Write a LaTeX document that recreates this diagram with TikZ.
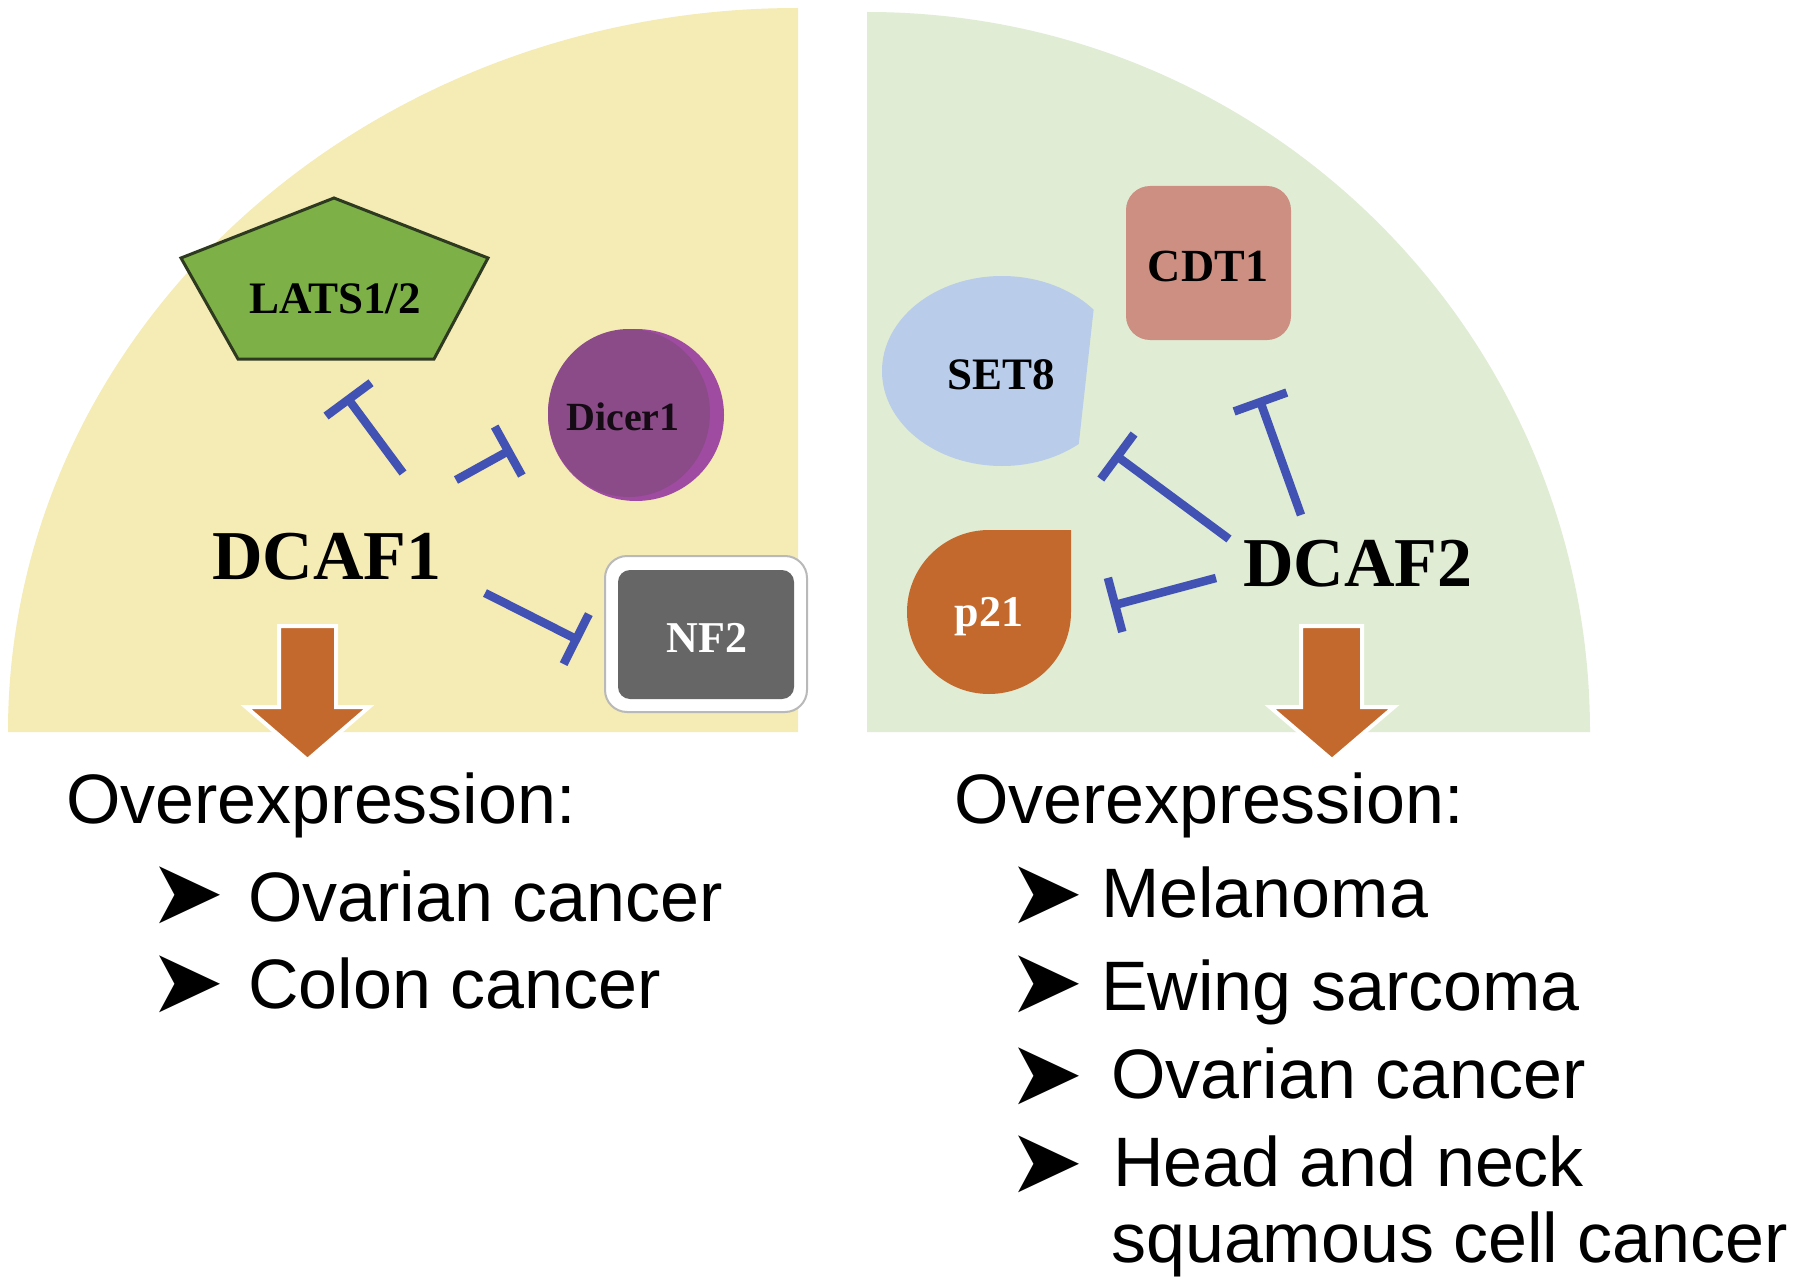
\documentclass[tikz,border=0pt]{standalone}
\usepackage{fontspec}
\setmainfont{Liberation Serif}
\setsansfont{Liberation Sans}
\newfontfamily\symfont{DejaVu Sans}
\usetikzlibrary{arrows.meta}
\definecolor{yelbg}{HTML}{F5EBB4}
\definecolor{grnbg}{HTML}{E0EDD4}
\definecolor{inhblue}{HTML}{4152B4}
\definecolor{orangeC}{HTML}{C4692D}
\definecolor{pentgreen}{HTML}{7DB046}
\definecolor{pentedge}{HTML}{2E3A20}
\definecolor{dicerdark}{HTML}{8B4A88}
\definecolor{dicerlight}{HTML}{A04BA2}
\definecolor{nfgray}{HTML}{666666}
\definecolor{cdtsalmon}{HTML}{CD8F82}
\definecolor{setblue}{HTML}{B9CCE9}
\tikzset{
  lab/.style={font=\bfseries\fontsize{#1}{#1}\selectfont, inner sep=0pt, anchor=base},
  txt/.style={font=\sffamily\fontsize{70}{84}\selectfont, inner sep=0pt, anchor=base west},
  bul/.style={font=\symfont\fontsize{90}{90}\selectfont, inner sep=0pt, anchor=center},
  inh/.style={draw=inhblue, line width=8.5pt, -{Bar[width=56pt]}},
  bigarrow/.style={fill=orangeC, draw=white, line width=4pt, line join=miter}
}
\begin{document}
\begin{tikzpicture}[x=1pt,y=-1pt]
\useasboundingbox (0,0) rectangle (1800,1287);
\fill[white] (0,0) rectangle (1800,1287);
% panels
\fill[yelbg] (798,732) -- (8,732) arc[start angle=180, end angle=270, x radius=790, y radius=724] -- cycle;
\fill[grnbg] (867,732) -- (1590,732) arc[start angle=0, end angle=-90, x radius=723, y radius=720] -- cycle;

% ---- left panel shapes
\filldraw[fill=pentgreen, draw=pentedge, line width=3pt, line join=miter]
  (334,198) -- (488,258) -- (434,359) -- (238,359) -- (181,258) -- cycle;
\node[lab=45] (lats) at (335,313) {LATS1/2};

\fill[dicerlight] (636,415) ellipse[x radius=88, y radius=86];
\fill[dicerdark] (629,413) ellipse[x radius=81, y radius=84];
\node[lab=40, text=black!85!dicerdark] (dicer) at (623,430) {Dicer1};

\filldraw[fill=white, draw=gray!55, line width=2pt, rounded corners=22pt] (605,556) rectangle (807,712);
\fill[nfgray, rounded corners=12pt] (618,570) rectangle (794,699);
\node[lab=44, text=white] (nf2) at (707,652) {NF2};

\node[lab=70] (dcaf1) at (327,579) {DCAF1};

\coordinate (l1s) at (403,473); \coordinate (l1e) at (346,396);
\coordinate (l2s) at (456,480); \coordinate (l2e) at (512,449);
\coordinate (l3s) at (485,593); \coordinate (l3e) at (580,641);
\draw[inh] (l1s) -- (l1e);
\draw[inh] (l2s) -- (l2e);
\draw[inh] (l3s) -- (l3e);

\filldraw[bigarrow] (279,626) -- (336,626) -- (336,707) -- (369,707) -- (307.5,760) -- (246,707) -- (279,707) -- cycle;

% ---- right panel shapes
\fill[cdtsalmon, rounded corners=24pt] (1126,186) rectangle (1291,340);
\node[lab=46] (cdt1) at (1208,281) {CDT1};

\begin{scope}
  \clip (850,250) -- (1100.2,250) -- (1072.6,500) -- (850,500) -- cycle;
  \fill[setblue] (1002,371) ellipse[x radius=120, y radius=95];
\end{scope}
\node[lab=45] (set8) at (1001,389) {SET8};

\fill[orangeC] (1071,530) -- (1071,612) arc[start angle=0, end angle=270, radius=82] -- cycle;
\node[lab=44, text=white] (p21) at (989,626) {p21};

\node[lab=70] (dcaf2) at (1358,586) {DCAF2};

\coordinate (r1s) at (1229,539); \coordinate (r1e) at (1114,454);
\coordinate (r2s) at (1301,515); \coordinate (r2e) at (1259,398);
\coordinate (r3s) at (1216,578); \coordinate (r3e) at (1111,606);
\draw[inh] (r1s) -- (r1e);
\draw[inh] (r2s) -- (r2e);
\draw[inh] (r3s) -- (r3e);

\filldraw[bigarrow] (1301,626) -- (1362,626) -- (1362,707) -- (1394,707) -- (1332,760) -- (1270,707) -- (1301,707) -- cycle;

% ---- text below
\node[txt] (ovl) at (66,823) {Overexpression:};
\node[bul] (bl1) at (187,895) {➤};
\node[txt] (tl1) at (248,921) {Ovarian cancer};
\node[bul] (bl2) at (187,984) {➤};
\node[txt] (tl2) at (248,1008) {Colon cancer};

\node[txt] (ovr) at (954,823) {Overexpression:};
\node[bul] (br1) at (1046,895) {➤};
\node[txt] (tr1) at (1101,917) {Melanoma};
\node[bul] (br2) at (1046,984) {➤};
\node[txt] (tr2) at (1101,1010) {Ewing sarcoma};
\node[bul] (br3) at (1046,1076) {➤};
\node[txt] (tr3) at (1111,1098) {Ovarian cancer};
\node[bul] (br4) at (1046,1164) {➤};
\node[txt] (tr4) at (1113,1186) {Head and neck};
\node[txt] (tr5) at (1111,1262) {squamous cell cancer};
\end{tikzpicture}
\end{document}
